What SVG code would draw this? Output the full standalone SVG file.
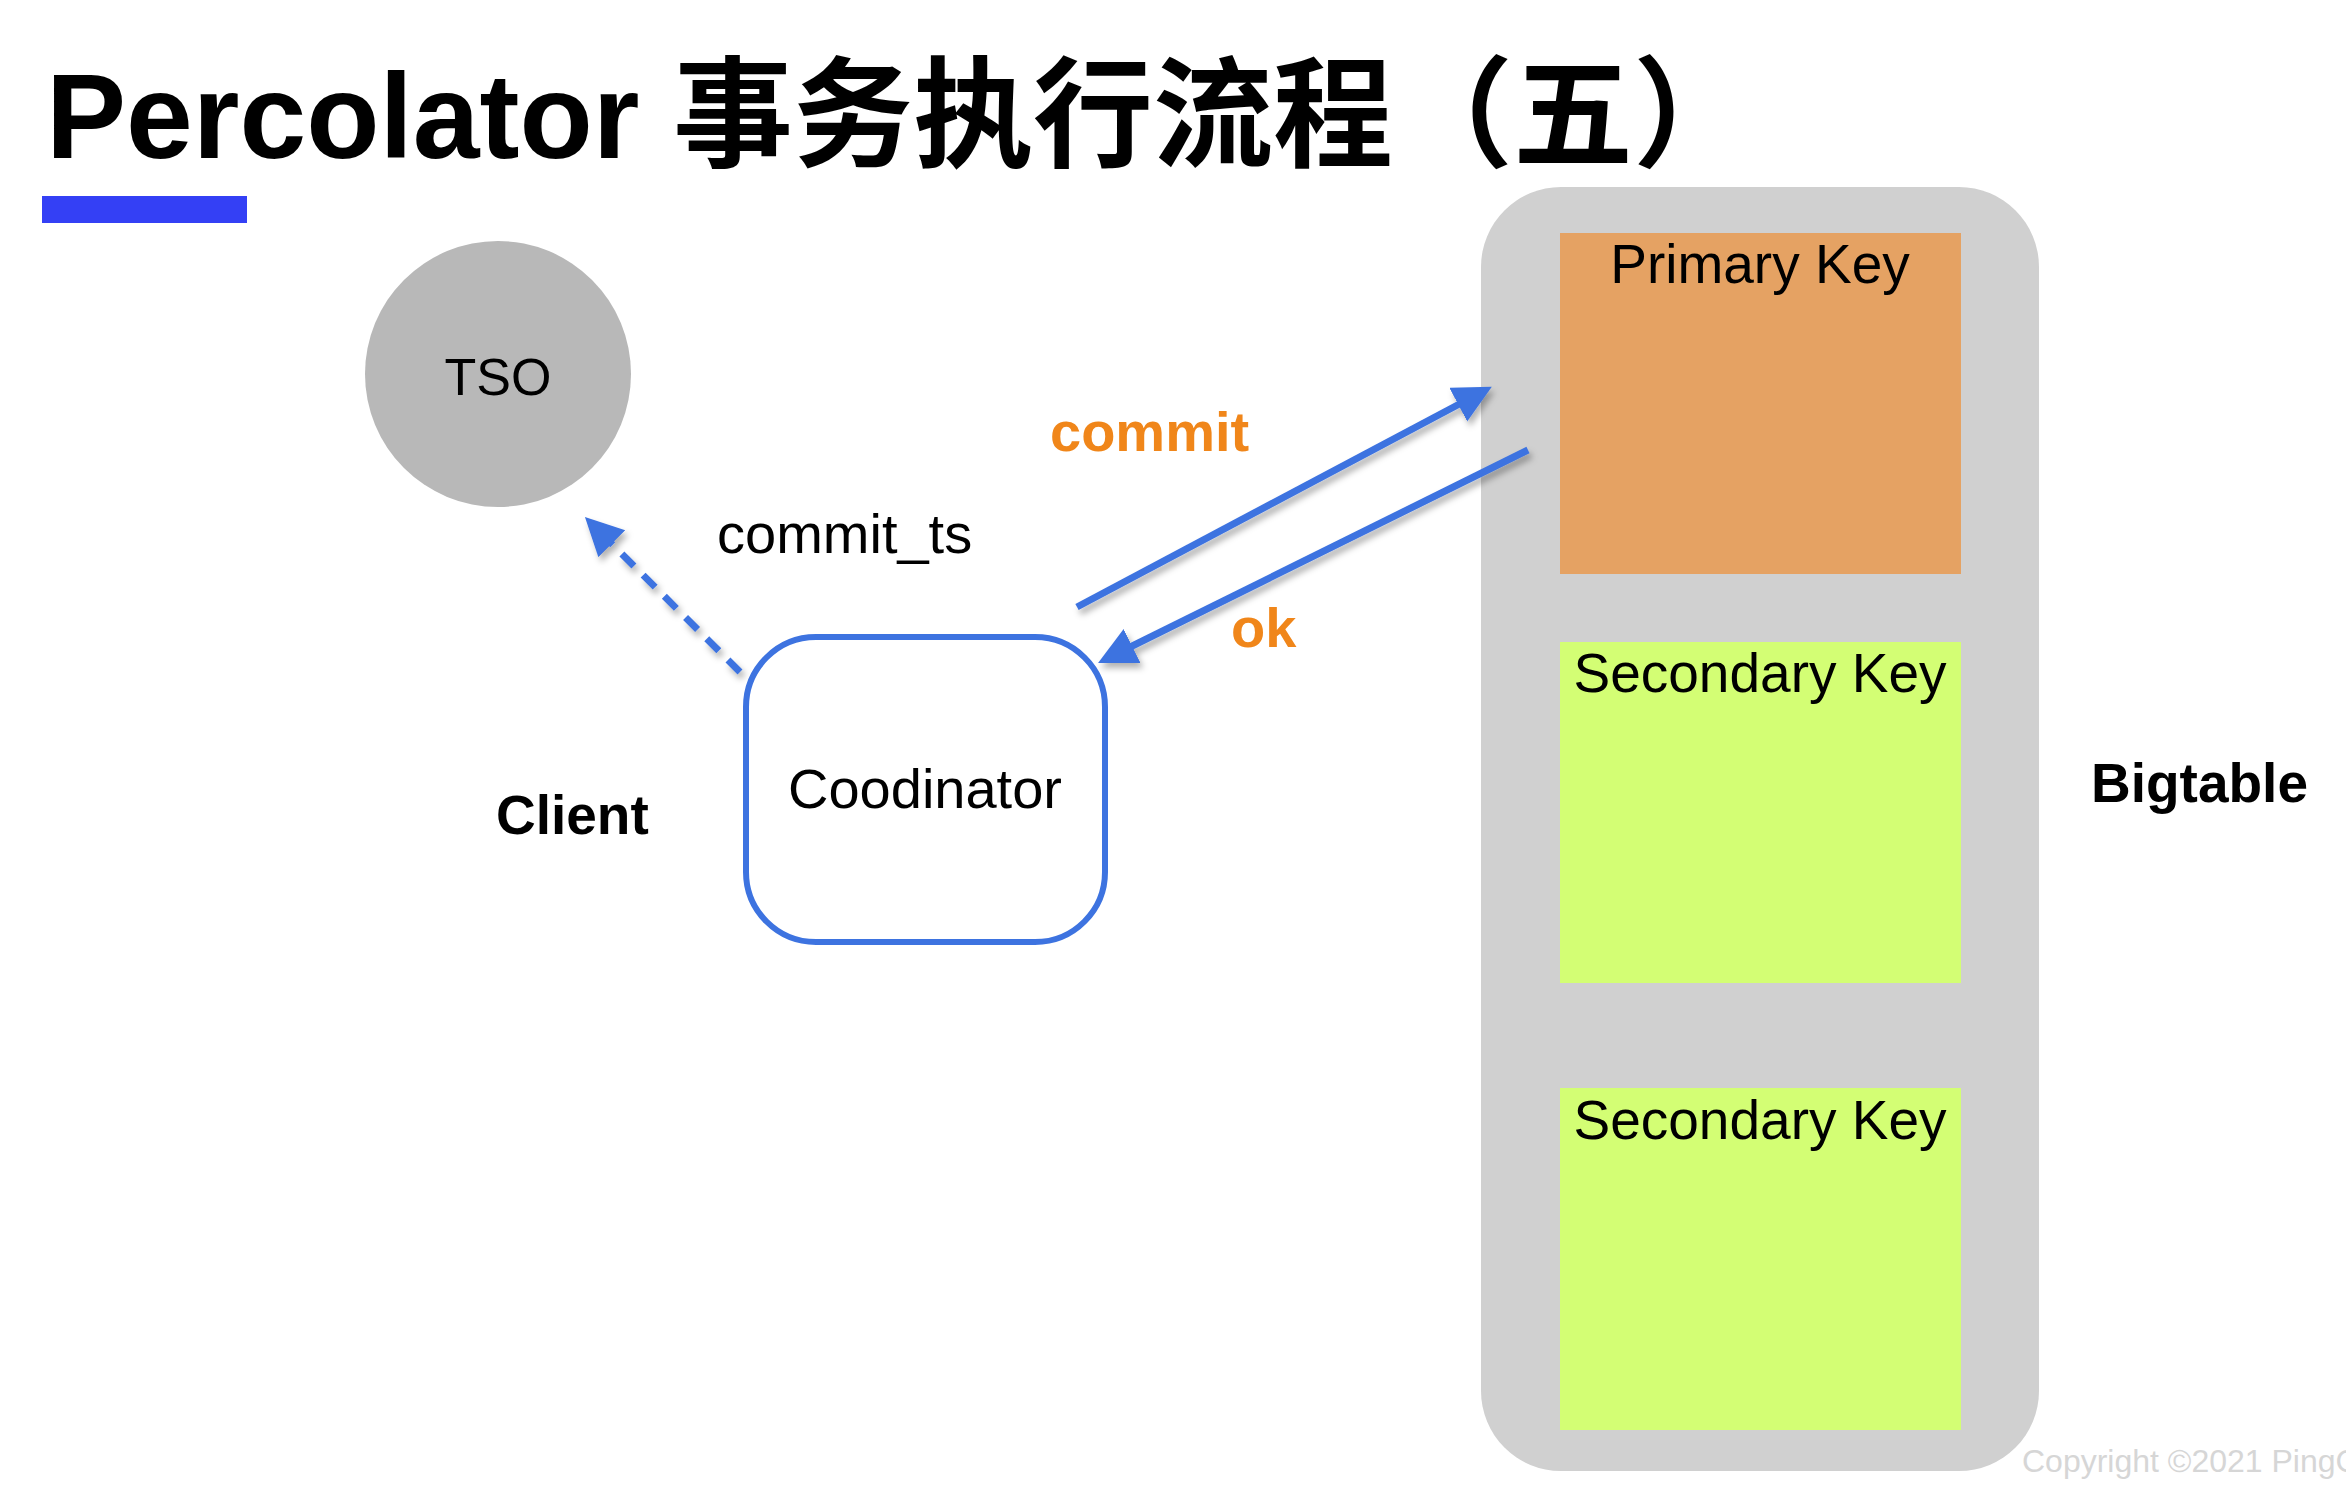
<svg xmlns="http://www.w3.org/2000/svg" width="2346" height="1491" viewBox="0 0 2346 1491">
  <style>
    .lat { font-family: "Liberation Sans", Arial, sans-serif; }
    .lbl { font-family: "Liberation Sans", Arial, sans-serif; font-size: 55px; fill: #000; }
    .bold { font-weight: bold; }
    .orange { fill: #F0861A; font-weight: bold; font-size: 56px; font-family: "Liberation Sans", Arial, sans-serif; }
    .key { font-family: "Liberation Sans", Arial, sans-serif; font-size: 55px; fill: #000; text-anchor: middle; }
    .conn { stroke: #3D73E0; stroke-width: 7; fill: none; }
    .pk { fill: #E5A263; }
    .sk { fill: #D3FE74; }
  </style>
  <defs>
    <marker id="ah" markerUnits="userSpaceOnUse" markerWidth="42" markerHeight="42" refX="28" refY="19" orient="auto">
      <path d="M0,0 L38,19 L0,38 z" fill="#3D73E0"/>
    </marker>
    <filter id="sh" x="-20%" y="-20%" width="140%" height="140%">
      <feDropShadow dx="3" dy="5" stdDeviation="3" flood-color="#000" flood-opacity="0.3"/>
    </filter>
  </defs>

  <rect width="2346" height="1491" fill="#ffffff"/>

  <g id="title">
    <text x="46" y="158" font-size="120" font-weight="bold" font-family="'Liberation Sans', 'Noto Sans CJK SC', sans-serif" fill="#000">Percolator 事务执行流程（五）</text>
    <rect x="42" y="196" width="205" height="27" fill="#3440F5"/>
  </g>

  <g id="bigtable">
    <rect x="1481" y="187" width="558" height="1284" rx="80" ry="80" fill="#D0D0D0"/>
    <text x="2091" y="802" class="lbl bold">Bigtable</text>
  </g>

  <g id="primary-key">
    <rect x="1560" y="233" width="401" height="341" class="pk"/>
    <text x="1760" y="283" class="key">Primary Key</text>
  </g>

  <g id="secondary-key-1">
    <rect x="1560" y="642" width="401" height="341" class="sk"/>
    <text x="1760" y="692" class="key">Secondary Key</text>
  </g>

  <g id="secondary-key-2">
    <rect x="1560" y="1088" width="401" height="342" class="sk"/>
    <text x="1760" y="1139" class="key">Secondary Key</text>
  </g>

  <g id="tso">
    <circle cx="498" cy="374" r="133" fill="#B8B8B8"/>
    <text x="498" y="395" font-size="52" text-anchor="middle" class="lat" fill="#000">TSO</text>
  </g>

  <g id="client">
    <text x="496" y="834" class="lbl bold">Client</text>
  </g>

  <g id="coordinator">
    <rect x="746" y="637" width="359" height="305" rx="70" ry="70" fill="#ffffff" stroke="#3D73E0" stroke-width="6"/>
    <text x="925" y="808" font-size="56" text-anchor="middle" class="lat" fill="#000">Coodinator</text>
  </g>

  <g id="connectors" filter="url(#sh)">
    <line class="conn" x1="740" y1="672" x2="592" y2="524" stroke-dasharray="17 13" marker-end="url(#ah)"/>
    <line class="conn" x1="1077" y1="607" x2="1483" y2="391.5" marker-end="url(#ah)"/>
    <line class="conn" x1="1528" y1="450" x2="1107" y2="658.5" marker-end="url(#ah)"/>
  </g>

  <g id="labels">
    <text x="717" y="553" font-size="56" class="lat" fill="#000">commit_ts</text>
    <text x="1050" y="451" class="orange">commit</text>
    <text x="1231" y="647" class="orange">ok</text>
  </g>

  <text x="2022" y="1472" font-size="32" class="lat" fill="#D6D6D6">Copyright ©2021 PingCAP</text>
</svg>
